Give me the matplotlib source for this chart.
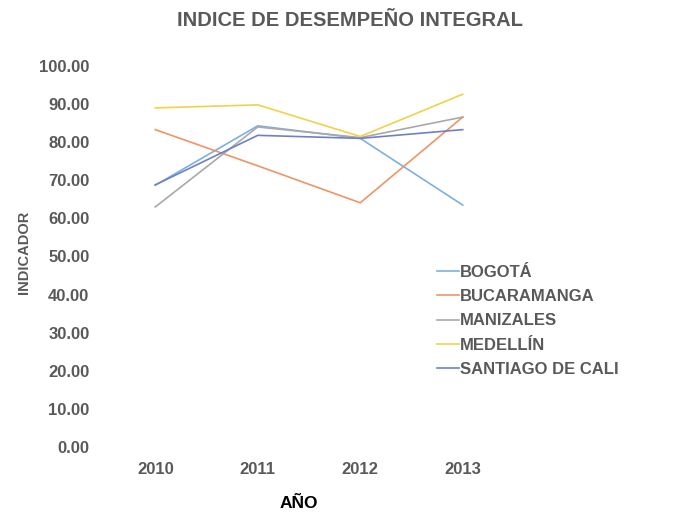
import matplotlib
matplotlib.use("Agg")
import matplotlib.pyplot as plt

plt.rcParams["font.family"] = ["Liberation Sans", "DejaVu Sans"]

# Indicator per city, 2010-2013
years = ["2010", "2011", "2012", "2013"]
bogota = [68.7, 84.3, 81.0, 63.5]
bucaramanga = [83.3, 73.8, 64.1, 86.6]
manizales = [63.0, 84.0, 81.2, 86.6]
medellin = [89.0, 89.8, 81.5, 92.6]
cali = [68.8, 81.8, 81.0, 83.3]

series = [
    ("BOGOTÁ", bogota, "#7EB0DE"),
    ("BUCARAMANGA", bucaramanga, "#EE9566"),
    ("MANIZALES", manizales, "#A9A9A9"),
    ("MEDELLÍN", medellin, "#F0D24A"),
    ("SANTIAGO DE CALI", cali, "#6F80C8"),
]

TXT = "#595959"

fig = plt.figure(figsize=(6.84, 5.17), dpi=100, facecolor="white")
ax = fig.add_axes([104 / 684, 70 / 517, 410 / 684, 381 / 517])

x = list(range(len(years)))
for name, vals, col in series:
    ax.plot(x, vals, color=col, linewidth=1.2, label=name)

ax.set_xlim(-0.5, len(years) - 0.5)
ax.set_ylim(0, 100)
ax.set_xticks(x)
ax.set_xticklabels(years)
ax.set_yticks(range(0, 101, 10))
ax.set_yticklabels([f"{v:.2f}" for v in range(0, 101, 10)])
ax.tick_params(length=0, labelsize=12, labelcolor=TXT)
ax.tick_params(axis="y", pad=10.5)
ax.tick_params(axis="x", pad=11)
for lab in ax.get_xticklabels() + ax.get_yticklabels():
    lab.set_fontweight("bold")
for sp in ax.spines.values():
    sp.set_visible(False)

fig.text(350 / 684, 1 - 21 / 517, "INDICE DE DESEMPEÑO INTEGRAL", ha="center", va="center",
         fontsize=14.5, fontweight="bold", color=TXT)
fig.text(299 / 684, 1 - 503 / 517, "AÑO", ha="center", va="center",
         fontsize=12.5, fontweight="bold", color="black")
fig.text(24 / 684, 1 - 252 / 517, "INDICADOR", ha="center", va="center",
         rotation=90, fontsize=10.5, fontweight="bold", color=TXT)

leg = ax.legend(loc="upper left", bbox_to_anchor=(422 / 684, 1 - 250 / 517),
                bbox_transform=fig.transFigure, frameon=False,
                handlelength=1.3, handletextpad=0.1, labelspacing=0.55,
                fontsize=12)
for t in leg.get_texts():
    t.set_color(TXT)
    t.set_fontweight("bold")

fig.savefig("out.png", dpi=100, facecolor="white")
